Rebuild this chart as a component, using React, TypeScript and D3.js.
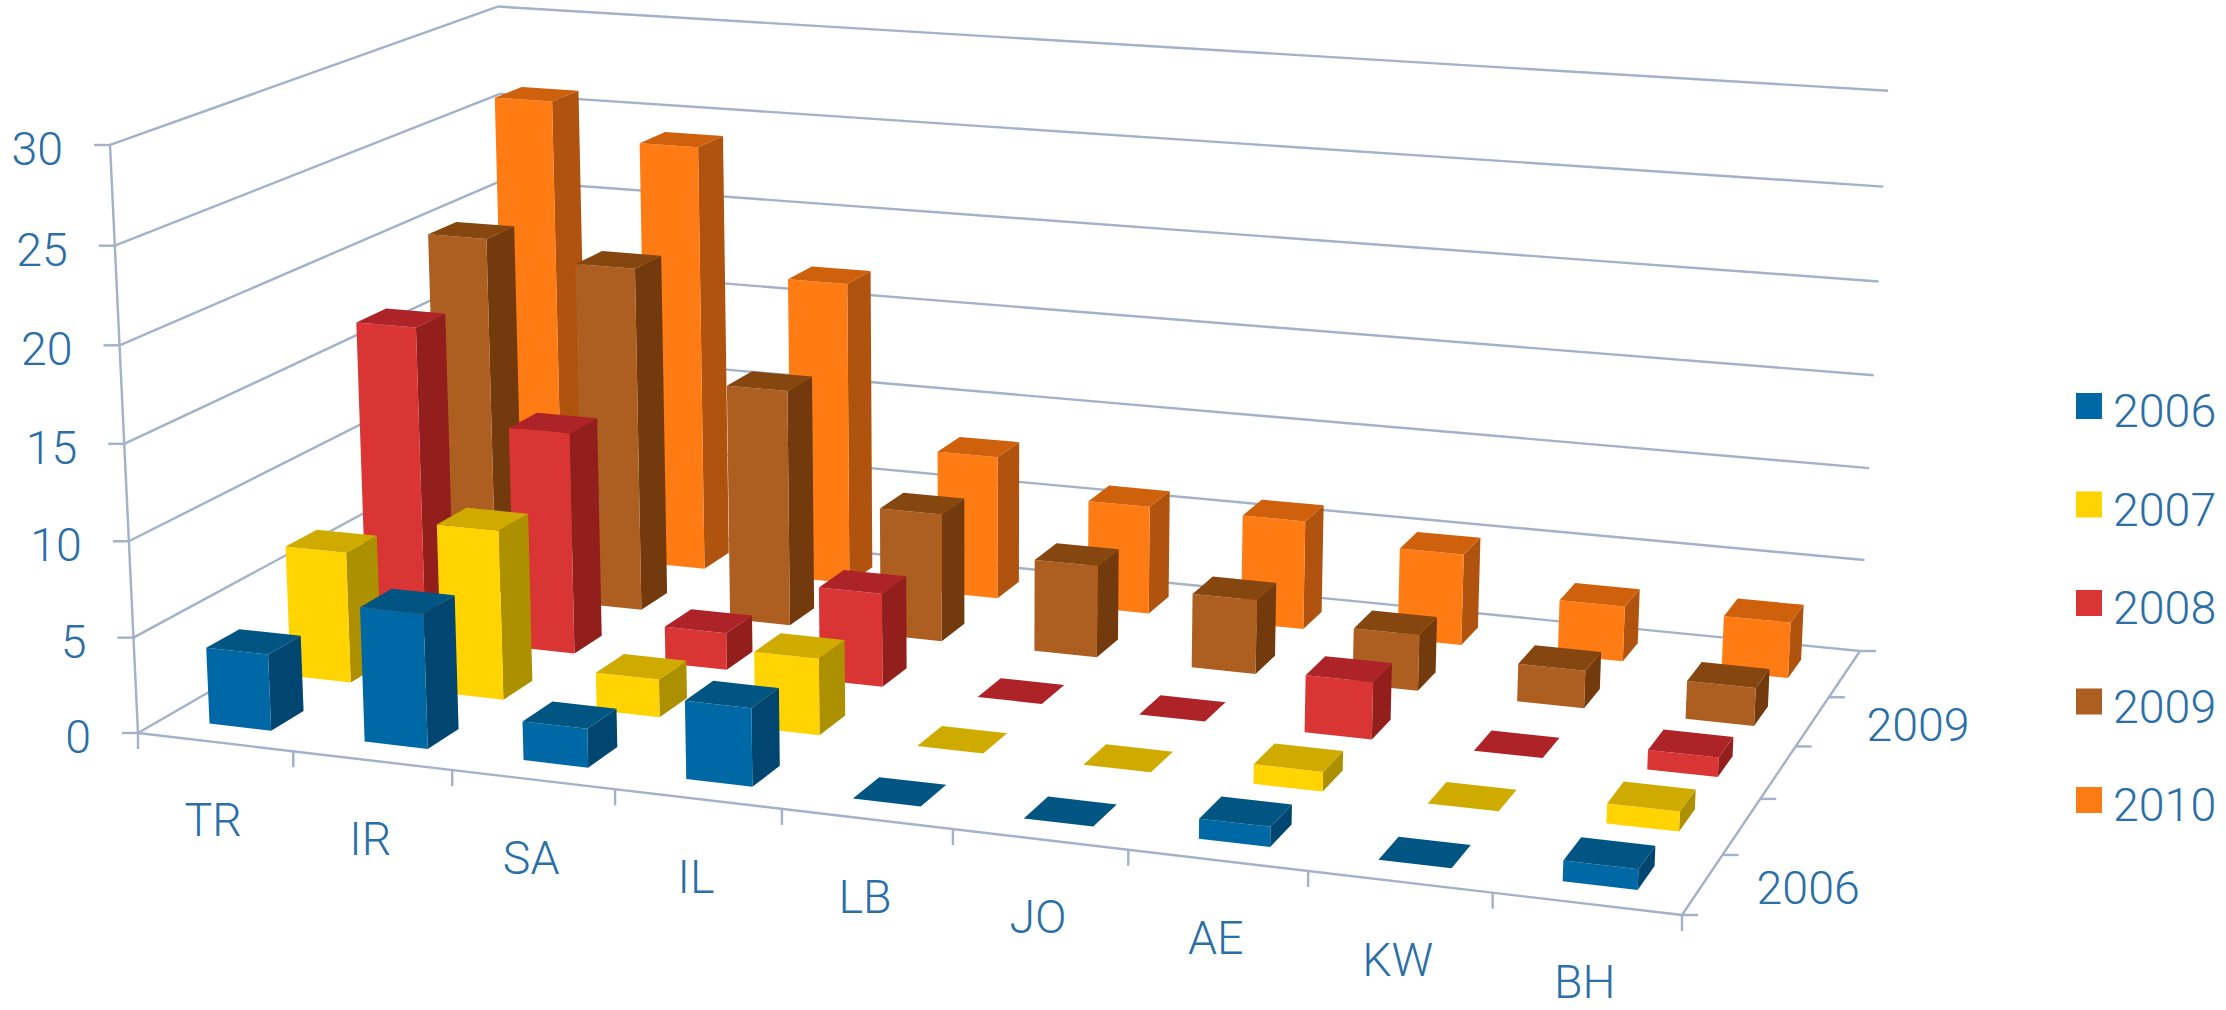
import React from "react";
import * as d3 from "d3";

const categories = ["TR", "IR", "SA", "IL", "LB", "JO", "AE", "KW", "BH"];
const years = ["2006", "2007", "2008", "2009", "2010"];
const values2006 = [4, 7, 2, 4, 0, 0, 1, 0, 1];
const values2007 = [7, 9, 2, 4, 0, 0, 1, 0, 1];
const values2008 = [17, 12, 2, 5, 0, 0, 3, 0, 1];
const values2009 = [20, 19, 13, 7, 5, 4, 3, 2, 2];
const values2010 = [26, 24, 17, 8, 6, 6, 5, 3, 3];
const seriesValues = [values2006, values2007, values2008, values2009, values2010];
const valueTicks = [0, 5, 10, 15, 20, 25, 30];
const depthLabels = ["2006", "2009"];

const frontColors = ["#0069A5", "#FFD400", "#D93535", "#AC5F20", "#FF7C14"];
const topColors = ["#005582", "#CFAB00", "#AE2327", "#85470F", "#CF600C"];
const sideColors = ["#004670", "#AD9000", "#921F1C", "#733B0D", "#B0530E"];

const lineColor = "#A3B1C9";
const textColor = "#2B6FA6";
const font = "Roboto, 'Liberation Sans', sans-serif";

// Camera: floor corners in the picture and the vanishing point of the verticals.
const FL: [number, number] = [138, 733];
const FR: [number, number] = [1682, 915];
const BR: [number, number] = [1860, 651];
const BL: [number, number] = [511, 518];
const VP: [number, number] = [975, 18316];
const FULL_HEIGHT = -0.03236;

const dx1 = FR[0] - BR[0], dx2 = BL[0] - BR[0], sx = FL[0] - FR[0] + BR[0] - BL[0];
const dy1 = FR[1] - BR[1], dy2 = BL[1] - BR[1], sy = FL[1] - FR[1] + BR[1] - BL[1];
const det = dx1 * dy2 - dx2 * dy1;
const g = (sx * dy2 - dx2 * sy) / det;
const h = (dx1 * sy - sx * dy1) / det;
const a = FR[0] - FL[0] + g * FR[0], b = BL[0] - FL[0] + h * BL[0];
const d = FR[1] - FL[1] + g * FR[1], e = BL[1] - FL[1] + h * BL[1];

const zScale = d3.scaleLinear().domain([0, 30]).range([0, FULL_HEIGHT]);

function project(u: number, w: number, v: number): [number, number] {
  const s = zScale(v);
  const t = g * u + h * w + 1 + s;
  return [
    (a * u + b * w + FL[0] + s * VP[0]) / t,
    (d * u + e * w + FL[1] + s * VP[1]) / t,
  ];
}

const uBand = d3.scaleBand<string>().domain(categories).range([0, 1]).paddingInner(0.6).paddingOuter(0.3);
const wBand = d3.scaleBand<string>().domain(years).range([0, 1]).paddingInner(0.6).paddingOuter(0.3);
const uStep = d3.scalePoint<string>().domain(d3.range(categories.length + 1).map(String)).range([0, 1]);
const wStep = d3.scalePoint<string>().domain(d3.range(years.length + 1).map(String)).range([0, 1]);

const path = d3.line<[number, number]>();
const closed = (pts: [number, number][]) => (path(pts) as string) + "Z";

function Bar({ cat, year, value, s }: { cat: string; year: string; value: number; s: number }) {
  const u0 = uBand(cat) as number, u1 = u0 + uBand.bandwidth();
  const w0 = wBand(year) as number, w1 = w0 + wBand.bandwidth();
  const front = closed([project(u0, w0, 0), project(u1, w0, 0), project(u1, w0, value), project(u0, w0, value)]);
  const side = closed([project(u1, w0, 0), project(u1, w1, 0), project(u1, w1, value), project(u1, w0, value)]);
  const top = closed([project(u0, w0, value), project(u1, w0, value), project(u1, w1, value), project(u0, w1, value)]);
  return (
    <g>
      <path d={side} fill={sideColors[s]} />
      <path d={front} fill={frontColors[s]} />
      <path d={top} fill={topColors[s]} />
    </g>
  );
}

export default function App() {
  const lines: string[] = [];
  valueTicks.forEach((v) => {
    const f = project(0, 0, v);
    lines.push(path([project(0, 1, v), project(1, 1, v)]) as string);
    lines.push(path([f, project(0, 1, v)]) as string);
    lines.push(path([f, [f[0] - 16, f[1]]]) as string);
  });
  lines.push(path([project(0, 0, 0), project(0, 0, 30)]) as string);
  lines.push(path([project(0, 0, 0), project(1, 0, 0)]) as string);
  lines.push(path([project(1, 0, 0), project(1, 1, 0)]) as string);
  uStep.domain().forEach((k) => {
    const p = project(uStep(k) as number, 0, 0);
    lines.push(path([p, [p[0], p[1] + 16]]) as string);
  });
  wStep.domain().forEach((k) => {
    const p = project(1, wStep(k) as number, 0);
    lines.push(path([p, [p[0] + 16, p[1]]]) as string);
  });

  const order = d3.range(years.length).reverse();
  return (
    <svg
      width={2226}
      height={1010}
      viewBox="0 0 2226 1010"
      style={{ position: "absolute", left: 0, top: 0, display: "block", background: "#fff" }}
    >
      {lines.map((l, i) => (
        <path key={i} d={l} fill="none" stroke={lineColor} strokeWidth={2.4} />
      ))}
      {order.map((s) =>
        categories.map((c, i) => (
          <Bar key={c + s} cat={c} year={years[s]} value={seriesValues[s][i]} s={s} />
        ))
      )}
      <g fontFamily={font} fontWeight={300} fontSize={46.5} fill={textColor}>
        {valueTicks.map((v) => {
          const p = project(0, 0, v);
          return (
            <text key={v} x={p[0] - 47} y={p[1] + 20} textAnchor="end">
              {v}
            </text>
          );
        })}
        {categories.map((c) => {
          const p = project((uBand(c) as number) + uBand.bandwidth() / 2, 0, 0);
          return (
            <text key={c} x={p[0] - 2} y={p[1] + 94} textAnchor="middle">
              {c}
            </text>
          );
        })}
        {depthLabels.map((y) => {
          const p = project(1, (wBand(y) as number) + wBand.bandwidth() / 2, 0);
          return (
            <text key={y} x={p[0] + 54} y={p[1] + 20}>
              {y}
            </text>
          );
        })}
        {years.map((y, i) => (
          <g key={y}>
            <rect x={2076} y={393 + i * 98.5} width={26} height={26} fill={frontColors[i]} />
            <text x={2113} y={427 + i * 98.5}>
              {y}
            </text>
          </g>
        ))}
      </g>
    </svg>
  );
}
